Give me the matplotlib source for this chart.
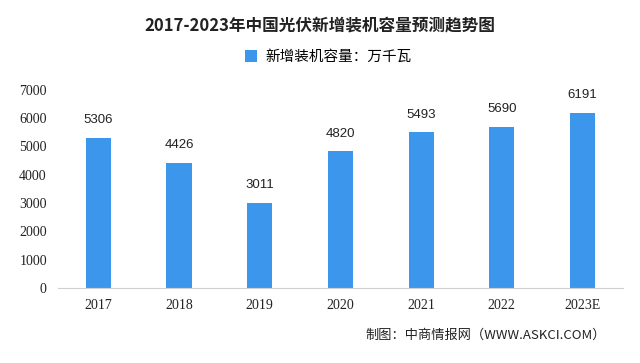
import matplotlib.pyplot as plt
import numpy as np

plt.rcParams['font.family'] = ['Noto Sans CJK SC', 'DejaVu Sans']

# 数据
years = ["2017", "2018", "2019", "2020", "2021", "2022", "2023E"]
capacity = [5306, 4426, 3011, 4820, 5493, 5690, 6191]
yticks = [0, 1000, 2000, 3000, 4000, 5000, 6000, 7000]

bar_color = "#3c96eb"

fig = plt.figure(figsize=(6.4, 3.63), dpi=100)
ax = fig.add_axes([0.0906, 0.2066, 0.8824, 0.5464])

x = np.arange(len(years))
bars = ax.bar(x, capacity, width=0.31, color=bar_color, label="新增装机容量：万千瓦")

for xi, v in zip(x, capacity):
    ax.text(xi, v + 400, str(v), ha="center", va="bottom", fontsize=9.5,
            family=["Liberation Sans"], color="#222222")

ax.set_xlim(-0.5, len(years) - 0.5)
ax.set_ylim(0, 7000)
ax.set_xticks(x)
ax.set_xticklabels(years, fontsize=10, family=["Liberation Serif"])
ax.set_yticks(yticks)
ax.set_yticklabels([str(t) for t in yticks], fontsize=10, family=["Liberation Serif"])
ax.tick_params(length=0, pad=8, colors="#222222")
ax.tick_params(axis="x", pad=8)

for s in ["top", "right", "left"]:
    ax.spines[s].set_visible(False)
ax.spines["bottom"].set_color("#d0d0d0")

fig.text(0.50, 0.93, "2017-2023年中国光伏新增装机容量预测趋势图", ha="center", va="center",
         fontsize=12, fontweight="bold", color="#222222")

leg = fig.legend(handles=[bars], loc="center", bbox_to_anchor=(0.513, 0.843), frameon=False,
                 fontsize=10.5, handlelength=0.8, handleheight=0.8, handletextpad=0.6)

fig.text(0.947, 0.077, "制图：中商情报网（WWW.ASKCI.COM）", ha="right", va="center",
         fontsize=9.5, color="#222222")

fig.savefig("out.png", dpi=100)
